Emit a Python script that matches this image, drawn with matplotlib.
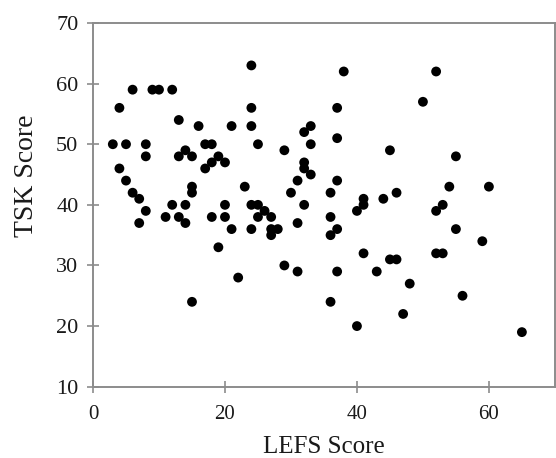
import matplotlib
matplotlib.use("Agg")
import matplotlib.pyplot as plt

lefs = [3, 4, 4, 5, 5, 6, 6, 7, 7, 8, 8, 8, 9, 10, 11, 12, 12, 13, 13, 13,
        14, 14, 14, 15, 15, 15, 15, 16, 17, 17, 18, 18, 18, 19, 19, 20, 20, 20,
        21, 21, 22, 23, 24, 24, 24, 24, 24, 25, 25, 25, 26, 27, 27, 27, 28,
        29, 29, 30, 31, 31, 31, 32, 32, 32, 32, 33, 33, 33, 36, 36, 36, 36,
        37, 37, 37, 37, 37, 38, 40, 40, 41, 41, 41, 43, 44, 45, 45, 46, 46,
        47, 48, 50, 52, 52, 52, 53, 53, 54, 55, 55, 56, 59, 60, 65]
tsk = [50, 56, 46, 50, 44, 59, 42, 41, 37, 50, 48, 39, 59, 59, 38, 59, 40, 54, 48, 38,
       49, 40, 37, 48, 43, 42, 24, 53, 50, 46, 50, 47, 38, 48, 33, 47, 40, 38,
       53, 36, 28, 43, 63, 56, 53, 40, 36, 50, 40, 38, 39, 38, 36, 35, 36,
       49, 30, 42, 44, 37, 29, 52, 47, 46, 40, 53, 50, 45, 42, 38, 35, 24,
       56, 51, 44, 36, 29, 62, 39, 20, 41, 40, 32, 29, 41, 49, 31, 42, 31,
       22, 27, 57, 62, 39, 32, 40, 32, 43, 48, 36, 25, 34, 43, 19]

x_ticks = [0, 20, 40, 60]
y_ticks = [10, 20, 30, 40, 50, 60, 70]

plt.rcParams['font.family'] = ['Liberation Serif', 'DejaVu Serif']

fig = plt.figure(figsize=(5.56, 4.58), dpi=100)
ax = fig.add_axes([0.1673, 0.1557, 0.8307, 0.7941])
ax.scatter(lefs, tsk, s=50, color='black', edgecolors='none', zorder=3)

ax.set_xlim(0, 70)
ax.set_ylim(10, 70)
ax.set_xticks(x_ticks)
ax.set_yticks(y_ticks)
for sp in ax.spines.values():
    sp.set_color('#8c8c8c')
    sp.set_linewidth(1.4)
ax.tick_params(direction='inout', length=9, width=1.2, color='#8c8c8c',
               labelcolor='#1a1a1a')
ax.tick_params(axis='x', pad=9, labelsize=15)
ax.tick_params(axis='y', pad=6, labelsize=16)
ax.set_xlabel('LEFS Score', fontsize=18, color='#1a1a1a', labelpad=8)
ax.set_ylabel('TSK Score', fontsize=20, color='#1a1a1a')
ax.yaxis.set_label_coords(-0.117, 0.58)

fig.savefig('out.png', dpi=100, facecolor='white')
